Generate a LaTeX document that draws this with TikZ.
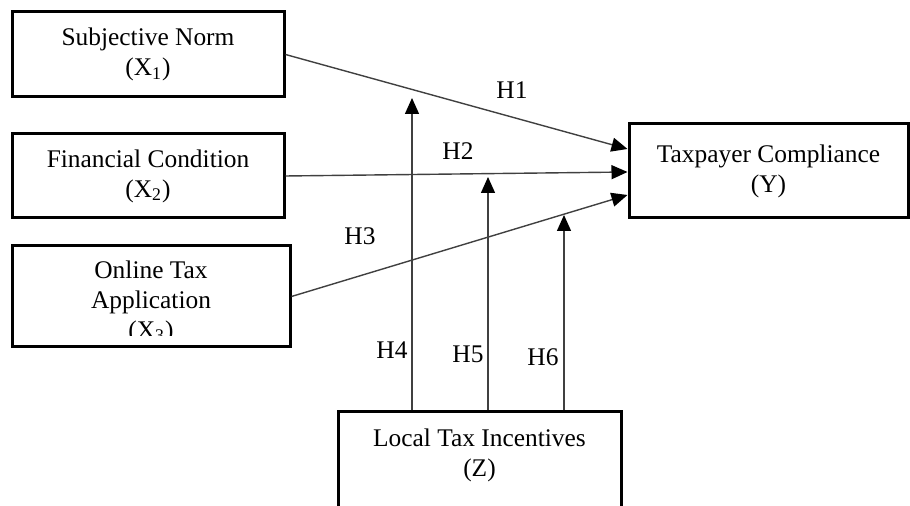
\documentclass[tikz,border=0pt]{standalone}
\usepackage{fontspec}
\setmainfont{Liberation Serif}
\usetikzlibrary{arrows.meta,calc}
\begin{document}
\begin{tikzpicture}[x=0.5pt,y=-0.5pt,
  txt/.style={font=\fontsize{12.7}{15}\selectfont, align=center, inner sep=0pt},
  box/.style={txt, draw, line width=1.5pt},
  conn/.style={draw=black!75, line width=0.7pt, -{Triangle[length=8pt,width=7pt,color=black]}},
  lab/.style={txt}]
\clip (0,0) rectangle (910,506);
% boxes
\node[box, minimum width=136pt, minimum height=42.5pt] (X1) at (148,54.5) {Subjective Norm\\(X\textsubscript{1})};
\node[box, minimum width=136pt, minimum height=42pt] (X2) at (148,176) {Financial Condition\\(X\textsubscript{2})};
\node[box, minimum width=139pt, minimum height=50.5pt] (X3) at (151,296.5) {};
\begin{scope}
  \clip (X3.north west) rectangle ($(X3.south east)+(0,-13)$);
  \node[txt] (X3t) at (151,302) {Online Tax\\Application\\(X\textsubscript{3})};
\end{scope}
\node[box, minimum width=139.5pt, minimum height=47pt] (Y) at (768.5,171) {Taxpayer Compliance\\(Y)};
\node[box, minimum width=141.5pt, minimum height=64pt] (Zbox) at (479.5,476) {};
\node[txt] (Z) at (479.5,455) {Local Tax Incentives\\(Z)};
% direct paths
\draw[conn] (X1.east) -- ($(Y.west)+(0,-22)$);
\draw[conn] (X2.east) -- ($(Y.west)+(0,1)$);
\draw[conn] (X3.east) -- ($(Y.west)+(0,24)$);
% moderating paths
\coordinate (t4) at (412,98);
\coordinate (t5) at (488,177);
\coordinate (t6) at (564,215);
\draw[conn] (Zbox.north -| t4) -- (t4);
\draw[conn] (Zbox.north -| t5) -- (t5);
\draw[conn] (Zbox.north -| t6) -- (t6);
% labels
\node[lab] (H1) at (512,90) {H1};
\node[lab] (H2) at (458,151) {H2};
\node[lab] (H3) at (360,236) {H3};
\node[lab] (H4) at (392,350) {H4};
\node[lab] (H5) at (468,354) {H5};
\node[lab] (H6) at (543,357) {H6};
\end{tikzpicture}
\end{document}
